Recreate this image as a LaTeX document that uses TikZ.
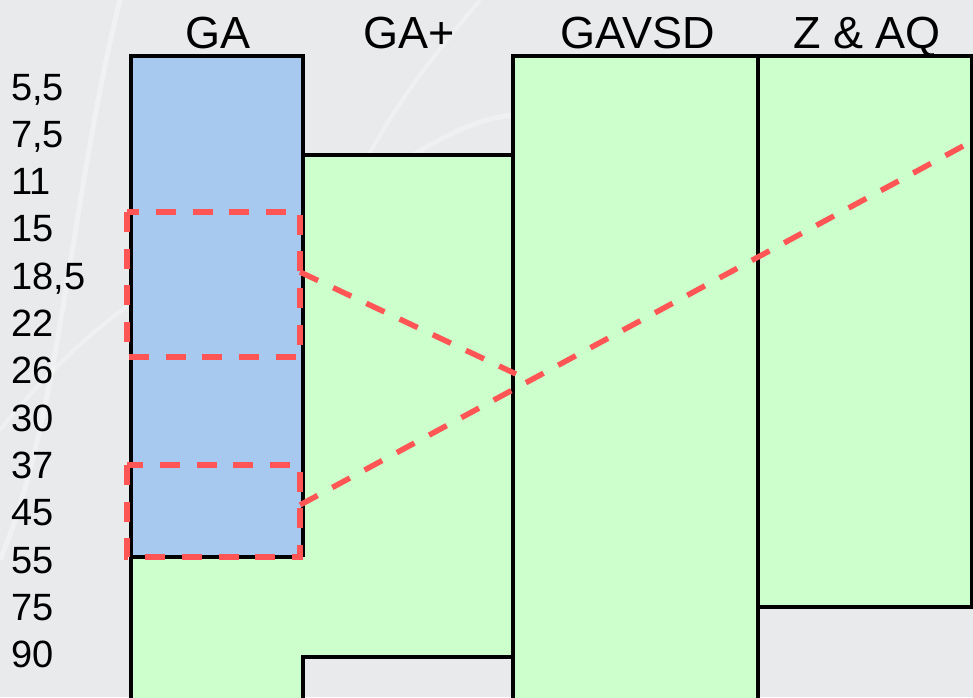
\documentclass[tikz,border=0pt]{standalone}
\usepackage{fontspec}
\setmainfont{Liberation Sans}
\usepackage{tikz}
\definecolor{fondo}{HTML}{E9EAEC}
\definecolor{azul}{HTML}{A7C9EF}
\definecolor{verde}{HTML}{CCFFCC}
\definecolor{rojo}{HTML}{FF5555}

\begin{document}
\begin{tikzpicture}[x=1pt,y=-1pt,
        borde/.style={draw=black,line width=3.5pt},
        marca/.style={draw=rojo,line width=5.5pt,dash pattern=on 20pt off 16.7pt},
        cabecera/.style={font=\fontsize{45}{45}\selectfont,anchor=base,inner sep=0pt},
        valor/.style={font=\fontsize{38}{38}\selectfont,anchor=base west,inner sep=0pt}]
        % Fondo gris
        \useasboundingbox (0,0) rectangle (973,697);
        \fill[fondo] (0,0) rectangle (973,697);
        % Trazos claros del fondo
        \draw[white,opacity=0.35,line width=5pt] (120,0) .. controls (70,200) and (60,420) .. (0,560);
        \draw[white,opacity=0.3,line width=4pt] (150,290) .. controls (90,330) and (40,380) .. (0,430);
        \draw[white,opacity=0.3,line width=4pt] (340,215) .. controls (380,120) and (430,60) .. (480,0);
        \draw[white,opacity=0.3,line width=5pt] (330,215) .. controls (400,160) and (460,120) .. (513,115);
        % Relleno de las columnas
        \fill[azul] (131,56) rectangle (303,557);
        \fill[verde] (131,557) rectangle (303,700);
        \fill[verde] (303,155) rectangle (513,657);
        \fill[verde] (513,56) rectangle (758,700);
        \fill[verde] (758,56) rectangle (972,607);
        % Bordes negros
        \draw[borde] (131,700) -- (131,56) -- (303,56) -- (303,557);
        \draw[borde] (131,557) -- (303,557);
        \draw[borde] (303,155) -- (513,155);
        \draw[borde] (303,700) -- (303,657) -- (513,657);
        \draw[borde] (513,700) -- (513,56) -- (971.5,56) -- (971.5,607) -- (758,607);
        \draw[borde] (758,56) -- (758,700);
        % Cabeceras
        \node[cabecera] (ga) at (218,48) {GA};
        \node[cabecera] (gamas) at (409,48) {GA+};
        \node[cabecera] (gavsd) at (638,48) {GAVSD};
        \node[cabecera] (zaq) at (867,48) {Z \& AQ};
        % Valores de la izquierda
        \node[valor] (v0) at (11,100) {5,5};
        \node[valor] (v1) at (11,147.3) {7,5};
        \node[valor] (v2) at (11,194.6) {11};
        \node[valor] (v3) at (11,241.9) {15};
        \node[valor] (v4) at (11,289.2) {18,5};
        \node[valor] (v5) at (11,336.5) {22};
        \node[valor] (v6) at (11,383.8) {26};
        \node[valor] (v7) at (11,431.1) {30};
        \node[valor] (v8) at (11,478.4) {37};
        \node[valor] (v9) at (11,525.7) {45};
        \node[valor] (v10) at (11,573) {55};
        \node[valor] (v11) at (11,620.3) {75};
        \node[valor] (v12) at (11,667.6) {90};
        % Marcas rojas
        \draw[marca] (127,212) rectangle (300,357);
        \draw[marca] (127,465) rectangle (300,557);
        \coordinate (r1) at (300,272);
        \coordinate (d1) at (516,374);
        \coordinate (r2) at (300,505);
        \coordinate (d2) at (965,145);
        \draw[marca] (r1) -- (d1);
        \draw[marca] (r2) -- (d2);
    \end{tikzpicture}
\end{document}
